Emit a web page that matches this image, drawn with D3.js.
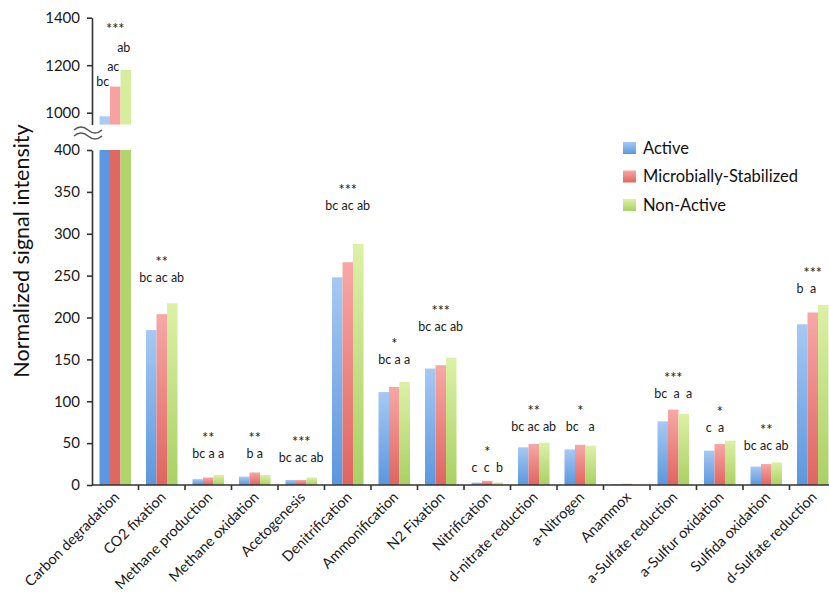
<!DOCTYPE html>
<html>
<head>
<meta charset="utf-8">
<script src="https://cdn.jsdelivr.net/npm/d3@7"></script>
<style>
  body { margin: 0; background: #fff; }
  svg { font-family: Lato, "Open Sans", sans-serif; }
  .lbl { white-space: pre; }
</style>
</head>
<body>
<div id="chart"></div>
<script>
// data
const categories = ["Carbon degradation", "CO2 fixation", "Methane production", "Methane oxidation",
  "Acetogenesis", "Denitrification", "Ammonification", "N2 Fixation", "Nitrification",
  "d-nitrate reduction", "a-Nitrogen", "Anammox", "a-Sulfate reduction", "a-Sulfur oxidation",
  "Sulfida oxidation", "d-Sulfate reduction"];
const series = ["Active", "Microbially-Stabilized", "Non-Active"];
const active     = [985, 185, 7, 10, 6, 248, 111, 139, 3, 45, 42.5, 1, 76, 41, 22, 192];
const stabilized = [1110, 204, 9, 15, 6, 266, 117, 143, 5, 49, 48, 1.5, 90, 49, 25, 206];
const nonActive  = [1180, 217, 12, 12, 9, 288, 123, 152, 3, 50.5, 47, 0.8, 85, 53, 27, 215];

// significance annotations
const sigStars = ["***", "**", "**", "**", "***", "***", "*", "***", "*", "**", "*", "", "***", "*", "**", "***"];
const letters = [["bc", "ac", "ab"], "bc ac ab", "bc a a", "b a", "bc ac ab", "bc ac ab", "bc a a",
  "bc ac ab", "c  c  b", "bc ac ab", "bc   a", "", "bc  a  a", "c  a   ", "bc ac ab", "b  a    "];
// value level where each letter row sits (carbon has one per bar, on the upper axis)
const letterLevel = [[1129, 1192, 1272], 247, 37, 37, 32, 333, 149, 189, 20, 69, 69, null, 109, 68, 47, 234];
const carbonStarLevel = 1366;

const lowTicks = [0, 50, 100, 150, 200, 250, 300, 350, 400];
const highTicks = [1000, 1200, 1400];

const W = 829, H = 595;
const colors = {
  "Active": ["#a6c9f3", "#5b97de"],
  "Microbially-Stabilized": ["#f7a8a6", "#df6560"],
  "Non-Active": ["#dcf1a6", "#a9d163"]
};
const solidLow = {"Active": "#5a97e0", "Microbially-Stabilized": "#e06863", "Non-Active": "#b0d56c"};
const solidHigh = {"Active": "#a9cbf4", "Microbially-Stabilized": "#f6a2a0", "Non-Active": "#d6ee9c"};

const table = categories.map((c, i) => ({
  cat: c, i: i,
  vals: [active[i], stabilized[i], nonActive[i]]
}));

const svg = d3.select("#chart").append("svg")
  .attr("width", W).attr("height", H);

const defs = svg.append("defs");
series.forEach((s, k) => {
  const g = defs.append("linearGradient")
    .attr("id", "grad" + k)
    .attr("x1", 0).attr("y1", 0).attr("x2", 0).attr("y2", 1);
  g.append("stop").attr("offset", "0%").attr("stop-color", colors[s][0]);
  g.append("stop").attr("offset", "100%").attr("stop-color", colors[s][1]);
});

// scales
const x = d3.scaleBand().domain(categories).range([92, 836]);
const xs = d3.scaleBand().domain(series).range([7.5, x.bandwidth() - 7.5]);
const yLow = d3.scaleLinear().domain([0, 400]).range([485, 150]);
const yHigh = d3.scaleLinear().domain([950, 1400]).range([124.6, 17.7]);

// bars (lower panel)
const groups = svg.append("g").selectAll("g")
  .data(table).join("g")
  .attr("transform", d => `translate(${x(d.cat)},0)`);

groups.selectAll("rect.low")
  .data(d => d.vals.map((v, k) => ({v, k, over: v > 400})))
  .join("rect")
  .attr("class", "low")
  .attr("x", d => xs(series[d.k]))
  .attr("width", xs.bandwidth())
  .attr("y", d => yLow(Math.min(d.v, 400)))
  .attr("height", d => yLow(0) - yLow(Math.min(d.v, 400)))
  .attr("fill", d => d.over ? solidLow[series[d.k]] : `url(#grad${d.k})`);

// bars (upper panel, only values beyond the break)
groups.selectAll("rect.high")
  .data(d => d.vals.filter(v => v > 400).map((v, k) => ({v, k})))
  .join("rect")
  .attr("class", "high")
  .attr("x", d => xs(series[d.k]))
  .attr("width", xs.bandwidth())
  .attr("y", d => yHigh(Math.max(d.v, 950)))
  .attr("height", d => yHigh(950) - yHigh(Math.max(d.v, 950)))
  .attr("fill", d => solidHigh[series[d.k]]);

// axes
const axisStyle = size => g => {
  g.select(".domain").attr("stroke", "#333").attr("stroke-width", 1.6);
  g.selectAll(".tick line").attr("stroke", "#333").attr("stroke-width", 1.6);
  g.selectAll(".tick text").attr("fill", "#1a1a1a").style("font-size", size)
    .style("font-family", "Lato, 'Open Sans', sans-serif");
};
svg.append("g").attr("transform", "translate(92,0)")
  .call(d3.axisLeft(yLow).tickValues(lowTicks).tickFormat(d3.format("d"))
    .tickSize(5).tickSizeOuter(0).tickPadding(7))
  .call(axisStyle("15px"));
svg.append("g").attr("transform", "translate(92,0)")
  .call(d3.axisLeft(yHigh).tickValues(highTicks).tickFormat(d3.format("d"))
    .tickSize(5).tickSizeOuter(0).tickPadding(7))
  .call(axisStyle("15px"));

// x axis: labels via d3 axis, boundary ticks drawn from band edges
const xAxis = svg.append("g").attr("transform", `translate(0,${yLow(0)})`)
  .call(d3.axisBottom(x).tickSize(0).tickSizeOuter(0))
  .call(axisStyle("14.5px"));
xAxis.select(".domain").attr("d", `M92,0H${W + 10}`);
xAxis.selectAll(".tick text")
  .attr("x", 0).attr("y", 0).attr("dy", null)
  .attr("transform", "translate(5,13) rotate(-45)")
  .style("text-anchor", "end");
xAxis.selectAll("line.edge")
  .data(categories.slice(1))
  .join("line")
  .attr("class", "edge")
  .attr("x1", d => x(d)).attr("x2", d => x(d))
  .attr("y1", 0).attr("y2", 5)
  .attr("stroke", "#333").attr("stroke-width", 1.6);

// axis break symbol
const brk = svg.append("g").attr("fill", "none").attr("stroke", "#555").attr("stroke-width", 1.6);
[130, 136].forEach(yy => {
  brk.append("path").attr("d", `M74,${yy} q7,-6 14,0 t14,0`);
});

// annotations
const ann = svg.append("g").attr("fill", "#1a1a1a").style("font-size", "12.5px");
table.forEach(d => {
  const cx = x(d.cat) + x.bandwidth() / 2;
  const lv = letterLevel[d.i];
  if (Array.isArray(lv)) {
    letters[d.i].forEach((t, k) => {
      ann.append("text").attr("class", "lbl")
        .attr("x", x(d.cat) + xs(series[k]) + xs.bandwidth() / 2 - 2)
        .attr("y", yHigh(lv[k]) + 4)
        .attr("text-anchor", "middle").text(t);
    });
    ann.append("text")
      .attr("x", cx).attr("y", yHigh(carbonStarLevel) + 8)
      .attr("text-anchor", "middle").style("font-size", "14.5px").text(sigStars[d.i]);
  } else if (lv !== null) {
    const base = yLow(lv) + 4;
    ann.append("text").attr("class", "lbl")
      .attr("x", cx).attr("y", base)
      .attr("text-anchor", "middle").text(letters[d.i]);
    ann.append("text")
      .attr("x", cx).attr("y", base - 19 + 4)
      .attr("text-anchor", "middle").style("font-size", "14.5px").text(sigStars[d.i]);
  }
});

// y title
svg.append("text")
  .attr("transform", "translate(29,251) rotate(-90)")
  .attr("text-anchor", "middle")
  .style("font-size", "21.5px")
  .attr("fill", "#111")
  .text("Normalized signal intensity");

// legend
const legend = svg.append("g").attr("transform", "translate(623,148)");
const li = legend.selectAll("g").data(series).join("g")
  .attr("transform", (d, k) => `translate(0,${k * 28.5})`);
li.append("rect").attr("x", 0).attr("y", -6).attr("width", 13).attr("height", 12)
  .attr("fill", (d, k) => `url(#grad${k})`);
li.append("text").attr("x", 20).attr("y", 0).attr("dy", "0.35em")
  .style("font-size", "16.5px").attr("fill", "#111").text(d => d);
</script>
</body>
</html>
